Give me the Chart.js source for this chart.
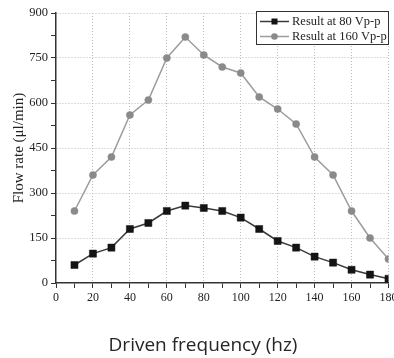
<!DOCTYPE html>
<html>
<head>
<meta charset="utf-8">
<script src="https://cdn.jsdelivr.net/npm/chart.js@4/dist/chart.umd.min.js"></script>
<style>
	body { margin: 0; background: #fff; }
	#wrap { width: 394px; height: 358px; }
</style>
</head>
<body>
<div id="wrap"><canvas id="flow-chart"></canvas></div>
<script>
const frequencies = [10, 20, 30, 40, 50, 60, 70, 80, 90, 100, 110, 120, 130, 140, 150, 160, 170, 180];
const flow80 = [60, 98, 118, 180, 200, 240, 258, 250, 240, 218, 180, 140, 118, 88, 68, 44, 28, 14];
const flow160 = [240, 360, 420, 560, 610, 750, 820, 760, 720, 700, 620, 580, 530, 420, 360, 240, 150, 80];
const seriesLabels = ["Result at 80 Vp-p", "Result at 160 Vp-p"];
const xTitle = "Driven frequency (hz)";
const yTitle = "Flow rate (\u03bcl/min)";

const serif = "'Liberation Serif', 'Times New Roman', serif";

const toPoints = (values) => values.map((v, i) => ({ x: frequencies[i], y: v }));

// legend drawn as a framed box inside the plot, line + marker samples
const boxedLegend = {
	id: "boxedLegend",
	afterDatasetsDraw(chart) {
		const ctx = chart.ctx;
		const area = chart.chartArea;
		const sets = chart.data.datasets;
		ctx.save();
		ctx.font = "12.5px " + serif;
		const textW = Math.max(...sets.map((ds) => ctx.measureText(ds.label).width));
		const boxW = Math.round(4 + 29 + 3 + textW + 2);
		const boxH = 33;
		const x0 = Math.round(area.right - boxW);
		const y0 = Math.round(area.top - 2);
		ctx.fillStyle = "#fff";
		ctx.fillRect(x0, y0, boxW, boxH);
		ctx.strokeStyle = "#333";
		ctx.lineWidth = 1;
		ctx.strokeRect(x0 + 0.5, y0 + 0.5, boxW - 1, boxH);
		sets.forEach((ds, i) => {
			const cy = y0 + 10.5 + i * 15;
			ctx.strokeStyle = ds.borderColor;
			ctx.lineWidth = ds.borderWidth;
			ctx.beginPath();
			ctx.moveTo(x0 + 4, cy);
			ctx.lineTo(x0 + 33, cy);
			ctx.stroke();
			ctx.fillStyle = ds.pointBackgroundColor;
			const mx = x0 + 18.5;
			if (ds.pointStyle === "rect") {
				ctx.fillRect(mx - 3, cy - 3, 6, 6);
			} else {
				ctx.beginPath();
				ctx.arc(mx, cy, 3.3, 0, Math.PI * 2);
				ctx.fill();
			}
			ctx.fillStyle = "#1e1e1e";
			ctx.textBaseline = "middle";
			ctx.textAlign = "left";
			ctx.fillText(ds.label, x0 + 36, cy + 0.5);
		});
		ctx.restore();
	},
};

// x axis caption sits under the figure, a bit right of the canvas centre
const bottomCaption = {
	id: "bottomCaption",
	afterDraw(chart) {
		const ctx = chart.ctx;
		ctx.save();
		ctx.font = "19px 'Open Sans', sans-serif";
		ctx.fillStyle = "#262626";
		ctx.textAlign = "center";
		ctx.textBaseline = "alphabetic";
		ctx.fillText(xTitle, chart.width / 2 + 6, chart.height - 7);
		ctx.restore();
	},
};

new Chart(document.getElementById("flow-chart"), {
	type: "line",
	data: {
		datasets: [
			{
				label: seriesLabels[0],
				data: toPoints(flow80),
				borderColor: "#3a3a3a",
				borderWidth: 1.5,
				pointStyle: "rect",
				pointRadius: 5,
				pointBackgroundColor: "#141414",
				pointBorderColor: "#141414",
				pointBorderWidth: 0.5,
				tension: 0,
			},
			{
				label: seriesLabels[1],
				data: toPoints(flow160),
				borderColor: "#9c9c9c",
				borderWidth: 1.5,
				pointStyle: "circle",
				pointRadius: 3.6,
				pointBackgroundColor: "#8a8a8a",
				pointBorderColor: "#8a8a8a",
				pointBorderWidth: 0.5,
				tension: 0,
			},
		],
	},
	options: {
		responsive: true,
		maintainAspectRatio: false,
		animation: false,
		layout: {
			padding: { left: 0, top: 13, right: 5, bottom: 45 },
		},
		plugins: {
			legend: { display: false },
			tooltip: { enabled: false },
		},
		scales: {
			x: {
				type: "linear",
				min: 0,
				max: 180,
				ticks: {
					stepSize: 10,
					autoSkip: false,
					maxRotation: 0,
					padding: 3,
					color: "#1e1e1e",
					font: { family: serif, size: 12 },
					callback: (v) => (v % 20 === 0 ? v : ""),
				},
				grid: {
					color: (c) => (c.tick && c.tick.value % 20 === 0 && c.tick.value > 0 ? "#bdbdbd" : "rgba(0,0,0,0)"),
					tickColor: "#333",
					tickLength: 5,
					lineWidth: 1,
				},
				border: { display: true, color: "#333", width: 1.5, dash: [1, 2] },
				afterFit: (scale) => {
					scale.height = 30;
					scale.paddingLeft = 0;
					scale.paddingRight = 0;
				},
			},
			y: {
				min: 0,
				max: 900,
				ticks: {
					stepSize: 75,
					autoSkip: false,
					padding: 3,
					color: "#1e1e1e",
					font: { family: serif, size: 12.5 },
					callback: (v) => (v % 150 === 0 ? v : ""),
				},
				grid: {
					color: (c) => (c.tick && c.tick.value % 150 === 0 && c.tick.value > 0 ? "#bdbdbd" : "rgba(0,0,0,0)"),
					tickColor: "#333",
					tickLength: 5,
					lineWidth: 1,
				},
				border: { display: true, color: "#333", width: 1.5, dash: [1, 2] },
				title: {
					display: true,
					text: yTitle,
					color: "#222",
					font: { family: serif, size: 15 },
					padding: { top: 10, bottom: 0 },
				},
				afterFit: (scale) => {
					scale.width = 56;
					scale.paddingTop = 0;
					scale.paddingBottom = 0;
				},
			},
		},
	},
	plugins: [boxedLegend, bottomCaption],
});
</script>
</body>
</html>
